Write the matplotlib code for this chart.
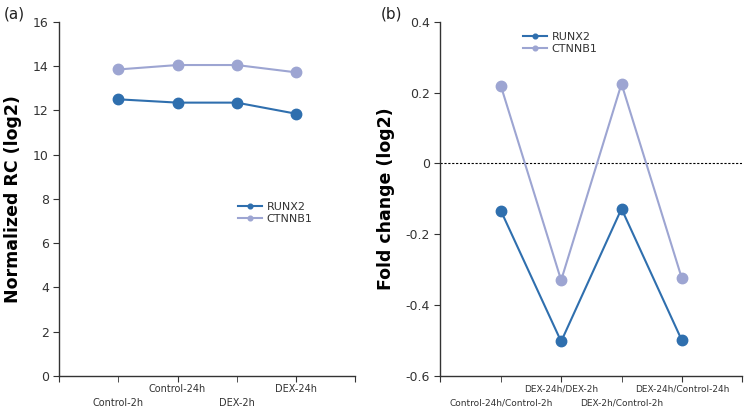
import matplotlib.pyplot as plt

# panel (a)
groups_a = ['Control-2h', 'Control-24h', 'DEX-2h', 'DEX-24h']
runx2_a = [12.5, 12.35, 12.35, 11.85]
ctnnb1_a = [13.85, 14.05, 14.05, 13.72]

# panel (b)
groups_b = ['Control-24h/Control-2h', 'DEX-24h/DEX-2h', 'DEX-2h/Control-2h', 'DEX-24h/Control-24h']
runx2_b = [-0.133, -0.503, -0.128, -0.50]
ctnnb1_b = [0.22, -0.33, 0.225, -0.325]

dark = '#2f6fae'
light = '#9da5d2'
axcol = '#333333'

fig = plt.figure(figsize=(7.49, 4.13), dpi=100)
ax1 = fig.add_axes([0.079, 0.09, 0.395, 0.857])
ax2 = fig.add_axes([0.588, 0.09, 0.403, 0.857])

x = [1, 2, 3, 4]


def style(ax, names, xsize):
    for s in ['top', 'right']:
        ax.spines[s].set_visible(False)
    for s in ['left', 'bottom']:
        ax.spines[s].set_color(axcol)
        ax.spines[s].set_linewidth(1.0)
    ax.set_xlim(0, 5)
    # staggered labels: odd groups low (minor ticks), even groups high (major ticks)
    ax.set_xticks([0, 2, 4, 5])
    ax.set_xticklabels(['', names[1], names[3], ''])
    ax.set_xticks([1, 3], minor=True)
    ax.set_xticklabels([names[0], names[2]], minor=True)
    ax.tick_params(axis='y', labelsize=9, colors=axcol, length=4, direction='out')
    ax.tick_params(axis='x', which='major', labelsize=xsize, colors=axcol, length=4, pad=2)
    ax.tick_params(axis='x', which='minor', labelsize=xsize, colors=axcol, length=4, pad=12)


ax1.plot(x, runx2_a, '-o', color=dark, lw=1.5, ms=7.5, label='RUNX2', clip_on=False)
ax1.plot(x, ctnnb1_a, '-o', color=light, lw=1.5, ms=7.5, label='CTNNB1', clip_on=False)
ax1.set_ylim(0, 16)
ax1.set_yticks(range(0, 17, 2))
ax1.set_ylabel('Normalized RC (log2)', fontsize=12.5, fontweight='bold', labelpad=8)
style(ax1, groups_a, 7)
ax1.legend(loc='center left', bbox_to_anchor=(0.57, 0.46), frameon=False, fontsize=8,
           markerscale=0.45, handlelength=2.2, handletextpad=0.4, labelspacing=0.2,
           labelcolor=axcol)

ax2.axhline(0, color='black', lw=0.8, ls=(0, (2, 1.5)))
ax2.plot(x, runx2_b, '-o', color=dark, lw=1.5, ms=7.5, label='RUNX2', clip_on=False)
ax2.plot(x, ctnnb1_b, '-o', color=light, lw=1.5, ms=7.5, label='CTNNB1', clip_on=False)
ax2.set_ylim(-0.6, 0.4)
ax2.set_yticks([-0.6, -0.4, -0.2, 0, 0.2, 0.4])
ax2.set_yticklabels(['-0.6', '-0.4', '-0.2', '0', '0.2', '0.4'])
ax2.set_ylabel('Fold change (log2)', fontsize=12.5, fontweight='bold', labelpad=8)
style(ax2, groups_b, 6.5)
ax2.legend(loc='upper left', bbox_to_anchor=(0.24, 1.0), frameon=False, fontsize=8,
           markerscale=0.45, handlelength=2.2, handletextpad=0.4, labelspacing=0.2,
           labelcolor=axcol)

fig.text(0.005, 0.965, '(a)', fontsize=11, va='center', color='#222222')
fig.text(0.508, 0.965, '(b)', fontsize=11, va='center', color='#222222')

fig.savefig('out.png', dpi=100)
